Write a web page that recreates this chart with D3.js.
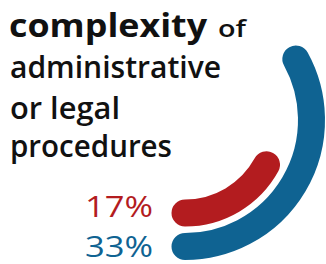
<!DOCTYPE html>
<html>
<head>
<meta charset="utf-8">
<script src="https://cdn.jsdelivr.net/npm/d3@7"></script>
<style>
  body { margin: 0; background: #fff; }
  svg { display: block; }
</style>
</head>
<body>
<div id="chart"></div>
<script>
// values
const categories = ["item2", "item1"];
const values = [17, 33];
const valueLabels = ["17%", "33%"];

const titleWords = ["complexity", "of", "administrative", "or legal", "procedures"];

const width = 326, height = 264;
const palette = ["#b31c1f", "#0f6392"];
const cx = 185, cy = 120;
const thick = 27;

const svg = d3.select("#chart").append("svg")
  .attr("width", width)
  .attr("height", height);

// title, one text per word group so each can be fitted to the reference width
const titleLayout = [
  { x: 9,   y: 37,  size: 33, weight: 700, len: 198 },
  { x: 218, y: 37,  size: 24, weight: 600, len: 28 },
  { x: 10,  y: 78,  size: 30, weight: 600, len: 211 },
  { x: 10,  y: 119, size: 30, weight: 600, len: 110 },
  { x: 10,  y: 157, size: 30, weight: 600, len: 162 }
];
svg.selectAll(".title")
  .data(titleWords)
  .enter()
  .append("text")
  .attr("class", "title")
  .attr("x", (d, i) => titleLayout[i].x)
  .attr("y", (d, i) => titleLayout[i].y)
  .attr("textLength", (d, i) => titleLayout[i].len)
  .attr("lengthAdjust", "spacingAndGlyphs")
  .style("font-family", "'Open Sans', sans-serif")
  .style("font-size", (d, i) => titleLayout[i].size + "px")
  .style("font-weight", (d, i) => titleLayout[i].weight)
  .style("fill", "#111")
  .text(d => d);

// radial bars
const angle = d3.scaleLinear().domain([0, 100]).range([0, 2 * Math.PI]);
const radius = d3.scalePoint().domain(categories).range([93, 126.5]);

function arcPath(r, v) {
  const p = d3.path();
  const a0 = Math.PI / 2;           // start at the bottom, sweep up the right side
  p.arc(0, 0, r, a0, a0 - angle(v), true);
  return p.toString();
}

const g = svg.append("g").attr("transform", `translate(${cx},${cy})`);

g.selectAll("path")
  .data(categories)
  .enter()
  .append("path")
  .attr("d", (d, i) => arcPath(radius(d), values[i]))
  .attr("fill", "none")
  .attr("stroke", (d, i) => palette[i])
  .attr("stroke-width", thick)
  .attr("stroke-linecap", "round");

// value labels
const labelDy = [4, 10];
svg.selectAll(".val")
  .data(categories)
  .enter()
  .append("text")
  .attr("class", "val")
  .attr("x", 153)
  .attr("y", (d, i) => cy + radius(d) + labelDy[i])
  .attr("text-anchor", "end")
  .attr("textLength", 68)
  .attr("lengthAdjust", "spacingAndGlyphs")
  .style("font-family", "'Open Sans', sans-serif")
  .style("font-size", "29px")
  .style("font-weight", 400)
  .style("fill", (d, i) => palette[i])
  .text((d, i) => valueLabels[i]);
</script>
</body>
</html>
